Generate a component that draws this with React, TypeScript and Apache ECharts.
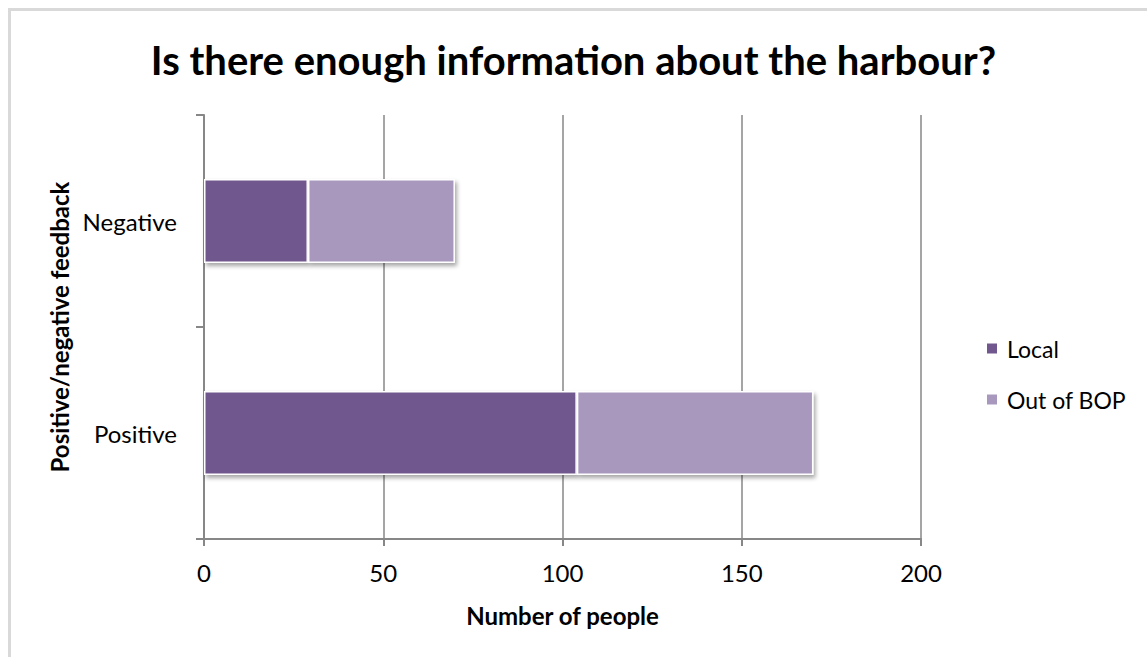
import React, { useEffect, useRef } from "react";
import * as echarts from "echarts";

const categories = ["Positive", "Negative"];
const localValues = [104, 29];
const outOfBopValues = [66, 41];
const seriesNames = ["Local", "Out of BOP"];
const xTicks = { min: 0, max: 200, interval: 50 };

const FONT = "Lato";
const LOCAL_COLOR = "#70588f";
const OUT_COLOR = "#a898be";
const AXIS_COLOR = "#878787";

const barStyle = (color: string) => ({
  color,
  borderColor: "#ffffff",
  borderWidth: 1.5,
  shadowColor: "rgba(0,0,0,0.35)",
  shadowBlur: 4,
  shadowOffsetX: 2,
  shadowOffsetY: 3,
});

export default function App() {
  const ref = useRef<HTMLDivElement>(null);

  useEffect(() => {
    if (!ref.current) return;
    const chart = echarts.init(ref.current, undefined, { renderer: "svg" });
    chart.setOption({
      animation: false,
      backgroundColor: "#ffffff",
      title: {
        text: "Is there enough information about the harbour?",
        left: "center",
        top: 35,
        textStyle: {
          fontFamily: FONT,
          fontWeight: "bold",
          fontSize: 40,
          color: "#000000",
        },
      },
      legend: {
        orient: "vertical",
        left: 980,
        top: 332,
        itemWidth: 12,
        itemHeight: 12,
        itemGap: 28,
        icon: "rect",
        textStyle: { fontFamily: FONT, fontSize: 23, color: "#000000", padding: [0, 0, 0, 4] },
        data: seriesNames,
      },
      grid: { left: 204, right: 226, top: 115, bottom: 118 },
      xAxis: {
        type: "value",
        min: xTicks.min,
        max: xTicks.max,
        interval: xTicks.interval,
        name: "Number of people",
        nameLocation: "middle",
        nameGap: 64,
        nameTextStyle: { fontFamily: FONT, fontWeight: "bold", fontSize: 24, color: "#000000" },
        axisLine: { show: true, lineStyle: { color: AXIS_COLOR, width: 2 } },
        axisTick: { show: true, length: 7, lineStyle: { color: AXIS_COLOR, width: 2 } },
        axisLabel: { fontFamily: FONT, fontSize: 24, color: "#000000", margin: 21 },
        splitLine: { show: true, lineStyle: { color: AXIS_COLOR, width: 1.5 } },
      },
      yAxis: {
        type: "category",
        data: categories,
        name: "Positive/negative feedback",
        nameLocation: "middle",
        nameGap: 131,
        nameRotate: 90,
        nameTextStyle: { fontFamily: FONT, fontWeight: "bold", fontSize: 24, color: "#000000" },
        axisLine: { show: true, lineStyle: { color: AXIS_COLOR, width: 2 } },
        axisTick: { show: true, length: 8, lineStyle: { color: AXIS_COLOR, width: 2 } },
        axisLabel: { fontFamily: FONT, fontSize: 24, color: "#000000", margin: 27 },
        splitLine: { show: false },
      },
      series: [
        {
          name: seriesNames[0],
          type: "bar",
          stack: "total",
          barWidth: 84,
          data: localValues,
          itemStyle: barStyle(LOCAL_COLOR),
        },
        {
          name: seriesNames[1],
          type: "bar",
          stack: "total",
          barWidth: 84,
          data: outOfBopValues,
          itemStyle: barStyle(OUT_COLOR),
        },
      ],
      graphic: [
        {
          type: "line",
          shape: { x1: 8, y1: 9.5, x2: 1147, y2: 9.5 },
          style: { stroke: "#d9d9d9", lineWidth: 3 },
          silent: true,
        },
        {
          type: "line",
          shape: { x1: 9.5, y1: 8, x2: 9.5, y2: 657 },
          style: { stroke: "#d9d9d9", lineWidth: 3 },
          silent: true,
        },
      ],
    });
    return () => chart.dispose();
  }, []);

  return (
    <div
      ref={ref}
      style={{ position: "fixed", left: 0, top: 0, width: 1147, height: 657 }}
    />
  );
}
